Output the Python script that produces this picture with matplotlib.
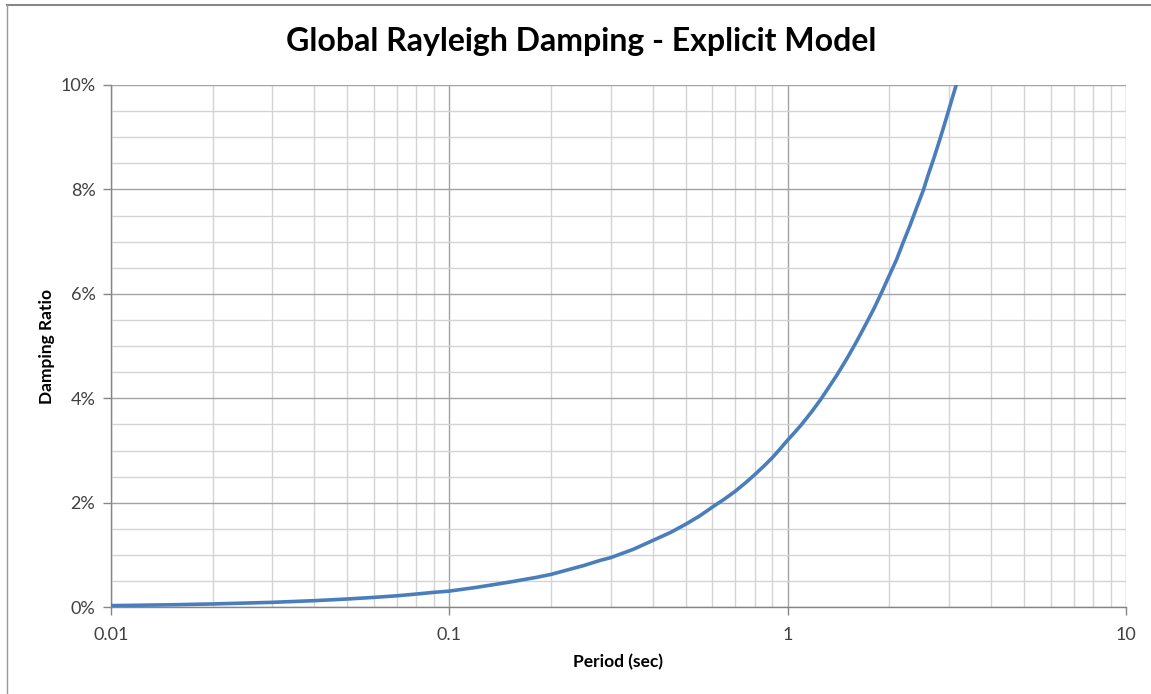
import matplotlib
matplotlib.use("Agg")
import matplotlib.pyplot as plt
from matplotlib.ticker import LogLocator, FixedLocator, FuncFormatter, MultipleLocator, NullFormatter
from matplotlib.lines import Line2D

# ---- data ----
period = [0.01, 0.015, 0.02, 0.03, 0.04, 0.05, 0.06, 0.07, 0.08, 0.09, 0.1,
          0.12, 0.15, 0.18, 0.2, 0.25, 0.28, 0.3, 0.35, 0.4, 0.45, 0.5, 0.55,
          0.6, 0.65, 0.7, 0.75, 0.8, 0.85, 0.9, 0.95, 1.0, 1.05, 1.1, 1.18,
          1.25, 1.32, 1.4, 1.5, 1.6, 1.7, 1.8, 1.9, 2.0, 2.1, 2.2, 2.3, 2.4,
          2.52, 2.6, 2.7, 2.8, 2.9, 3.0, 3.08, 3.15, 3.3]
damping = [0.00032, 0.00048, 0.00064, 0.00095, 0.00127, 0.00159, 0.0019,
           0.0022, 0.00254, 0.00286, 0.0031, 0.0038, 0.0048, 0.0057, 0.0063,
           0.0080, 0.0090, 0.0095, 0.0111, 0.0128, 0.0143, 0.0159, 0.0175,
           0.0192, 0.0207, 0.0222, 0.0238, 0.0254, 0.0270, 0.0286, 0.0303,
           0.0320, 0.0335, 0.0350, 0.0375, 0.0397, 0.0420, 0.0445, 0.0477,
           0.0509, 0.0541, 0.0572, 0.0604, 0.0636, 0.0666, 0.0700, 0.0731,
           0.0763, 0.0799, 0.0827, 0.0858, 0.0890, 0.0922, 0.0954, 0.0979,
           0.1000, 0.1049]

title = "Global Rayleigh Damping - Explicit Model"
xlabel = "Period (sec)"
ylabel = "Damping Ratio"
x_major = [0.01, 0.1, 1, 10]
y_major = [0.0, 0.02, 0.04, 0.06, 0.08, 0.10]

plt.rcParams['font.family'] = ['Lato', 'DejaVu Sans']

W, H = 1151, 694
fig = plt.figure(figsize=(W / 100, H / 100), dpi=100)
ax = fig.add_axes([110.7 / W, 1 - 607.3 / H, (1126 - 110.7) / W, (607.3 - 85) / H])

ax.plot(period, damping, color='#4A7EBB', lw=2.6, solid_capstyle='round',
        solid_joinstyle='round', zorder=3)

ax.set_xscale('log')
ax.set_xlim(0.01, 10)
ax.set_ylim(0, 0.10)

ax.xaxis.set_major_locator(FixedLocator(x_major))
ax.xaxis.set_major_formatter(FuncFormatter(lambda v, p: '%g' % v))
ax.xaxis.set_minor_locator(LogLocator(base=10, subs=[2, 3, 4, 5, 6, 7, 8, 9]))
ax.xaxis.set_minor_formatter(NullFormatter())
ax.yaxis.set_major_locator(FixedLocator(y_major))
ax.yaxis.set_major_formatter(FuncFormatter(lambda v, p: '%d%%' % round(v * 100)))
ax.yaxis.set_minor_locator(MultipleLocator(0.005))

ax.grid(True, which='major', color='#a3a3a3', lw=1.0, zorder=1)
ax.grid(True, which='minor', color='#d4d4d4', lw=1.0, zorder=0)
ax.set_axisbelow(True)

for s in ['top', 'right']:
    ax.spines[s].set_visible(False)
for s in ['left', 'bottom']:
    ax.spines[s].set_color('#868686')
    ax.spines[s].set_linewidth(1.0)

ax.tick_params(which='major', direction='out', length=6, width=1, color='#868686',
               labelsize=13, labelcolor='#404040', pad=5)
ax.tick_params(which='minor', length=0)
ax.tick_params(axis='x', pad=8)

ax.set_xlabel(xlabel, fontsize=12.5, fontweight='bold', labelpad=8)
ax.set_ylabel(ylabel, fontsize=12.5, fontweight='bold', labelpad=4)

fig.text(581 / W, 1 - 42 / H, title, ha='center', va='center',
         fontsize=23, fontweight='bold')

# outer chart border (top and left visible in reference)
fig.add_artist(Line2D([6.5 / W, 1], [1 - 5 / H, 1 - 5 / H], color='#888888', lw=1.5,
                      transform=fig.transFigure))
fig.add_artist(Line2D([6.5 / W, 6.5 / W], [0, 1 - 5 / H], color='#999999', lw=1.0,
                      transform=fig.transFigure))

fig.savefig('out.png', dpi=100)
